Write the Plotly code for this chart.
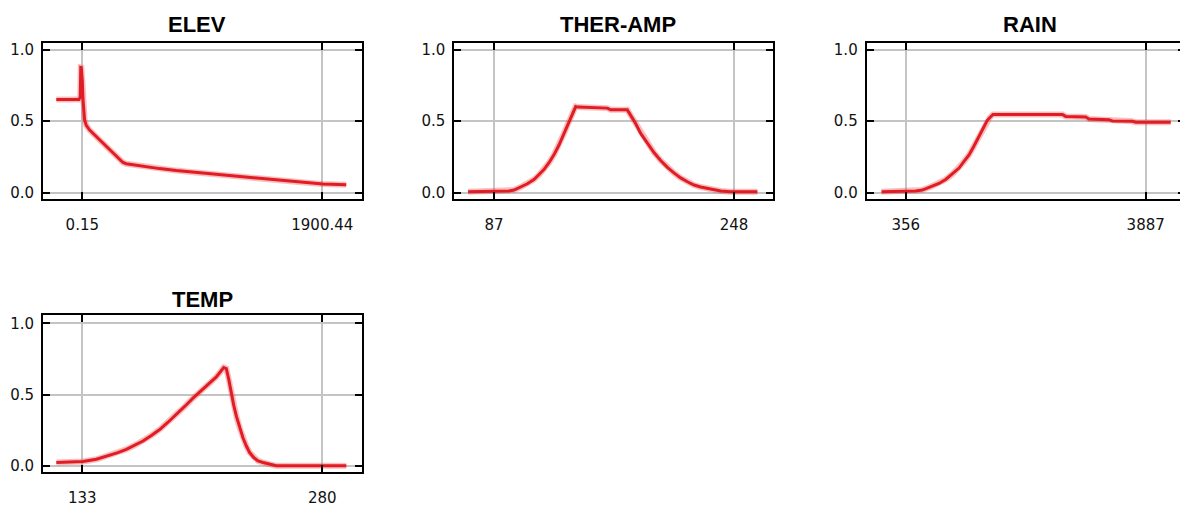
import plotly.graph_objects as go

# Response curves: predictor value vs. logistic output
elev_x = [-205.7, -26.2, -16.0, -12.0, -7.8, 0.15, 5.4, 18.6, 31.8, 58.2, 150.6, 243.0, 322.0,
          348.0, 480.0, 612.0, 744.0, 876.0, 1008.0, 1140.0, 1272.0, 1404.0, 1536.0, 1668.0,
          1800.0, 1905.0, 2090.0]
elev_y = [0.651, 0.651, 0.67, 0.875, 0.874, 0.78, 0.655, 0.506, 0.471, 0.437, 0.356, 0.276, 0.211,
          0.202, 0.184, 0.168, 0.154, 0.143, 0.131, 0.120, 0.110, 0.099, 0.087, 0.076,
          0.067, 0.060, 0.055]

ther_x = [69.6, 97.1, 100.4, 104.9, 109.4, 113.8, 117.2, 120.5, 123.9, 127.2, 130.6, 133.9, 136.2,
          138.4, 140.2, 141.8, 143.3, 163.0, 165.3, 176.4, 178.7, 182.0, 185.4, 189.9, 194.3,
          198.8, 203.3, 207.7, 212.2, 216.7, 221.2, 225.6, 230.1, 234.6, 239.1, 245.8, 263.7]
ther_y = [0.007, 0.011, 0.018, 0.039, 0.062, 0.092, 0.124, 0.161, 0.209, 0.264, 0.333, 0.414, 0.471,
          0.529, 0.570, 0.602, 0.598, 0.591, 0.579, 0.579, 0.540, 0.483, 0.414, 0.345, 0.280,
          0.225, 0.177, 0.138, 0.103, 0.076, 0.053, 0.039, 0.028, 0.018, 0.011, 0.007, 0.007]

rain_x = [0, 503, 601, 748, 846, 944, 1043, 1141, 1214, 1288, 1361, 1435, 1508, 1557, 1592, 1641,
          2661, 2710, 3004, 3053, 3347, 3396, 3691, 3740, 4255]
rain_y = [0.007, 0.011, 0.018, 0.046, 0.064, 0.092, 0.129, 0.172, 0.218, 0.264, 0.326, 0.391,
          0.455, 0.506, 0.524, 0.547, 0.547, 0.533, 0.529, 0.515, 0.510, 0.501, 0.499, 0.492, 0.492]

temp_x = [117.1, 133.4, 141.6, 149.7, 154.8, 160.0, 165.1, 170.2, 175.3, 180.4, 185.5, 190.6,
          195.7, 200.8, 205.9, 211.0, 215.1, 219.6, 221.2, 222.8, 224.3, 225.7, 227.4, 229.4,
          231.4, 233.5, 235.5, 238.0, 240.6, 243.7, 247.7, 251.8, 294.7]
temp_y = [0.023, 0.030, 0.046, 0.074, 0.093, 0.116, 0.144, 0.174, 0.213, 0.255, 0.306, 0.359,
          0.417, 0.475, 0.528, 0.583, 0.625, 0.690, 0.683, 0.602, 0.509, 0.428, 0.347, 0.266,
          0.197, 0.139, 0.093, 0.058, 0.035, 0.023, 0.012, 0.0, 0.0]

titles = ["ELEV", "THER-AMP", "RAIN", "TEMP"]
elev_ticks = [0.15, 1900.44]
ther_ticks = [87, 248]
rain_ticks = [356, 3887]
temp_ticks = [133, 280]
y_ticks = [0.0, 0.5, 1.0]
y_labels = ["0.0", "0.5", "1.0"]

W, H = 1180, 507

panels = [
    # suffix, x, y, ticks, x-range, pixel frame (left, right, top, bottom), y-range
    ("", elev_x, elev_y, elev_ticks, [-311.0, 2217.2], (43, 362.3, 41.3, 199.3), [-0.0414, 1.0483]),
    ("2", ther_x, ther_y, ther_ticks, [60.37, 274.35], (454.3, 773.3, 41.3, 199.3), [-0.0414, 1.0483]),
    ("3", rain_x, rain_y, rain_ticks, [-217.8, 4391.6], (866.7, 1180, 41.3, 199.3), [-0.0414, 1.0483]),
    ("4", temp_x, temp_y, temp_ticks, [108.93, 304.5], (43, 362.3, 317.7, 476.7), [-0.0444, 1.0575]),
]

fig = go.Figure()
layout = dict(
    width=W, height=H, margin=dict(l=0, r=0, t=0, b=0),
    paper_bgcolor="white", plot_bgcolor="white", showlegend=False,
)

tick_font = dict(family="DejaVu Sans", size=15, color="#111111")
for sfx, xs, ys, ticks, xr, (l, r, t, b), yr in panels:
    xa, ya = "x" + sfx, "y" + sfx
    # soft halo under the curve, then the solid core
    fig.add_trace(go.Scatter(x=xs, y=ys, mode="lines", xaxis=xa, yaxis=ya,
                             line=dict(color="rgba(238,70,70,0.35)", width=6), hoverinfo="skip"))
    fig.add_trace(go.Scatter(x=xs, y=ys, mode="lines", xaxis=xa, yaxis=ya,
                             line=dict(color="rgb(225,28,36)", width=3)))
    is_rain = sfx == "3"
    layout["xaxis" + sfx] = dict(
        domain=[l / W, r / W], range=xr, anchor=ya,
        tickvals=ticks, ticktext=[str(v) for v in ticks],
        showgrid=True, gridcolor="#c4c4c4", gridwidth=1.5, zeroline=False,
        showline=True, linecolor="black", linewidth=2, mirror="ticks",
        ticks="inside", ticklen=7, tickwidth=2, tickcolor="black",
        tickfont=tick_font, ticklabelstandoff=11, fixedrange=True,
    )
    layout["yaxis" + sfx] = dict(
        domain=[1 - b / H, 1 - t / H], range=yr, anchor=xa,
        tickvals=y_ticks, ticktext=y_labels,
        showgrid=True, gridcolor="#c4c4c4", gridwidth=1.5, zeroline=False,
        showline=True, linecolor="black", linewidth=2,
        mirror=False if is_rain else "ticks",
        ticks="inside", ticklen=7, tickwidth=2, tickcolor="black",
        tickfont=tick_font, ticklabelstandoff=4, fixedrange=True,
    )

# right-hand tick stubs for the RAIN panel, whose right frame runs off the page
layout["yaxis5"] = dict(
    overlaying="y3", anchor="x3", side="right", range=[-0.0414, 1.0483],
    tickvals=y_ticks, showticklabels=False, showgrid=False, zeroline=False,
    showline=False, ticks="inside", ticklen=2, tickwidth=2, tickcolor="black",
    fixedrange=True,
)
fig.add_trace(go.Scatter(x=[None], y=[None], xaxis="x3", yaxis="y5", mode="lines",
                         hoverinfo="skip"))

title_pos = [(197, 22.8), (618, 22.8), (1029.5, 22.8), (202.7, 301.3)]
annotations = []
for text, (cx, cy) in zip(titles, title_pos):
    annotations.append(dict(
        text=f"<b>{text}</b>", x=cx / W, y=1 - cy / H, xref="paper", yref="paper",
        xanchor="center", yanchor="middle", showarrow=False,
        font=dict(family="Liberation Sans", size=22, color="black"),
    ))
layout["annotations"] = annotations

fig.update_layout(**layout)
fig.write_html("out.html", config={"displayModeBar": False})
